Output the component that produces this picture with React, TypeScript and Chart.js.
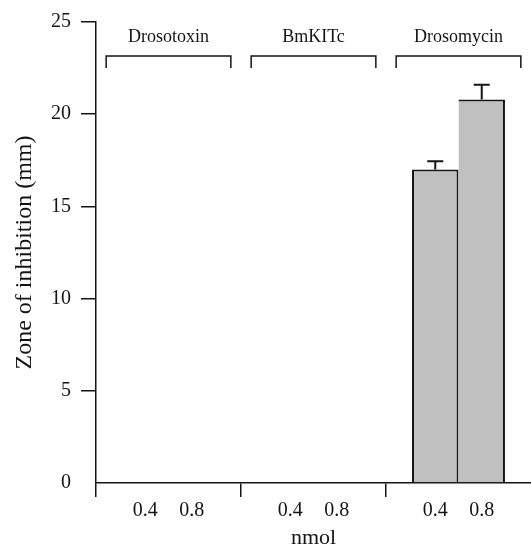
import React, { useEffect, useRef } from "react";
import { Chart, registerables } from "chart.js";

Chart.register(...registerables);

// ---- data ----
const groups = ["Drosotoxin", "BmKITc", "Drosomycin"];
const doseLabels = ["0.4", "0.8"];
const zoneLow = [0, 0, 17.0];
const zoneHigh = [0, 0, 20.8];
const errLow = [0, 0, 0.45];
const errHigh = [0, 0, 0.8];
const yTicksMax = 25;
const yTickStep = 5;
const yTitle = "Zone of inhibition (mm)";
const xTitle = "nmol";

const SERIF = "'Liberation Serif', 'Times New Roman', Times, serif";
const INK = "#141414";

const annotatePlugin = {
  id: "annotate",
  afterDatasetsDraw(chart: any) {
    const { ctx, scales, chartArea } = chart;
    const xs = scales.x;
    const ys = scales.y;
    ctx.save();
    ctx.strokeStyle = INK;
    ctx.fillStyle = INK;

    // error bars + dose labels under each bar
    chart.data.datasets.forEach((ds: any, i: number) => {
      const meta = chart.getDatasetMeta(i);
      meta.data.forEach((el: any, j: number) => {
        const e = ds.errors[j];
        const v = ds.data[j];
        if (e) {
          const base = ys.getPixelForValue(v);
          const top = ys.getPixelForValue(v + e);
          ctx.lineWidth = 2;
          ctx.beginPath();
          ctx.moveTo(el.x, base);
          ctx.lineTo(el.x, top);
          ctx.moveTo(el.x - 8, top);
          ctx.lineTo(el.x + 8, top);
          ctx.stroke();
        }
        ctx.font = `20px ${SERIF}`;
        ctx.textAlign = "center";
        ctx.textBaseline = "middle";
        ctx.fillText(ds.label, el.x, xs.top + 28);
      });
    });

    // group brackets and names
    const catW = xs.width / groups.length;
    const half = catW * 0.43;
    groups.forEach((g, i) => {
      const cx = xs.getPixelForValue(i);
      const yTop = chartArea.top + 34;
      const yBot = chartArea.top + 46;
      ctx.lineWidth = 1.5;
      ctx.beginPath();
      ctx.moveTo(cx - half, yBot);
      ctx.lineTo(cx - half, yTop);
      ctx.lineTo(cx + half, yTop);
      ctx.lineTo(cx + half, yBot);
      ctx.stroke();
      ctx.font = `18px ${SERIF}`;
      ctx.textAlign = "center";
      ctx.textBaseline = "alphabetic";
      ctx.fillText(g, cx, chartArea.top + 20);
    });
    ctx.restore();
  },
};

export default function App() {
  const ref = useRef<HTMLCanvasElement | null>(null);

  useEffect(() => {
    if (!ref.current) return;
    const chart = new Chart(ref.current, {
      type: "bar",
      data: {
        labels: groups,
        datasets: [
          {
            label: doseLabels[0],
            data: zoneLow,
            errors: errLow,
            backgroundColor: "#c0c0c0",
            borderColor: INK,
            borderWidth: { top: 2, left: 2, right: 2, bottom: 0 },
          } as any,
          {
            label: doseLabels[1],
            data: zoneHigh,
            errors: errHigh,
            backgroundColor: "#c0c0c0",
            borderColor: INK,
            borderWidth: { top: 2, left: 0, right: 2, bottom: 0 },
          } as any,
        ],
      },
      options: {
        responsive: false,
        animation: false,
        devicePixelRatio: 1,
        layout: { padding: { top: 21, left: 0, right: 0, bottom: 0 } },
        datasets: { bar: { categoryPercentage: 0.641, barPercentage: 1.0 } },
        plugins: { legend: { display: false }, tooltip: { enabled: false } },
        scales: {
          x: {
            type: "category",
            ticks: { display: false },
            grid: {
              offset: true,
              drawOnChartArea: false,
              drawTicks: true,
              tickLength: 14,
              lineWidth: 1.5,
              color: (c: any) => (c.type === "tick" ? INK : "rgba(0,0,0,0)"),
            },
            border: { display: true, color: INK, width: 1.5 },
            title: {
              display: true,
              text: xTitle,
              color: INK,
              font: { family: SERIF, size: 22, lineHeight: 0.76 },
              padding: 0,
            },
            afterFit(s: any) {
              s.height = 64;
            },
          },
          y: {
            min: 0,
            max: yTicksMax,
            ticks: {
              stepSize: yTickStep,
              color: INK,
              font: { family: SERIF, size: 20 },
              padding: 10,
            },
            grid: {
              drawOnChartArea: false,
              drawTicks: true,
              tickLength: 15,
              lineWidth: 1.5,
              color: (c: any) =>
                c.tick && c.tick.value === 0 ? "rgba(0,0,0,0)" : INK,
            },
            border: { display: true, color: INK, width: 1.5 },
            title: {
              display: true,
              text: yTitle,
              color: INK,
              font: { family: SERIF, size: 24 },
              padding: { top: 10, bottom: 0 },
            },
            afterFit(s: any) {
              s.width = 96;
            },
          },
        },
      } as any,
      plugins: [annotatePlugin],
    });
    return () => chart.destroy();
  }, []);

  return (
    <div style={{ position: "absolute", left: 0, top: 0, width: 531, height: 547 }}>
      <canvas ref={ref} width={531} height={547} style={{ display: "block" }} />
    </div>
  );
}
